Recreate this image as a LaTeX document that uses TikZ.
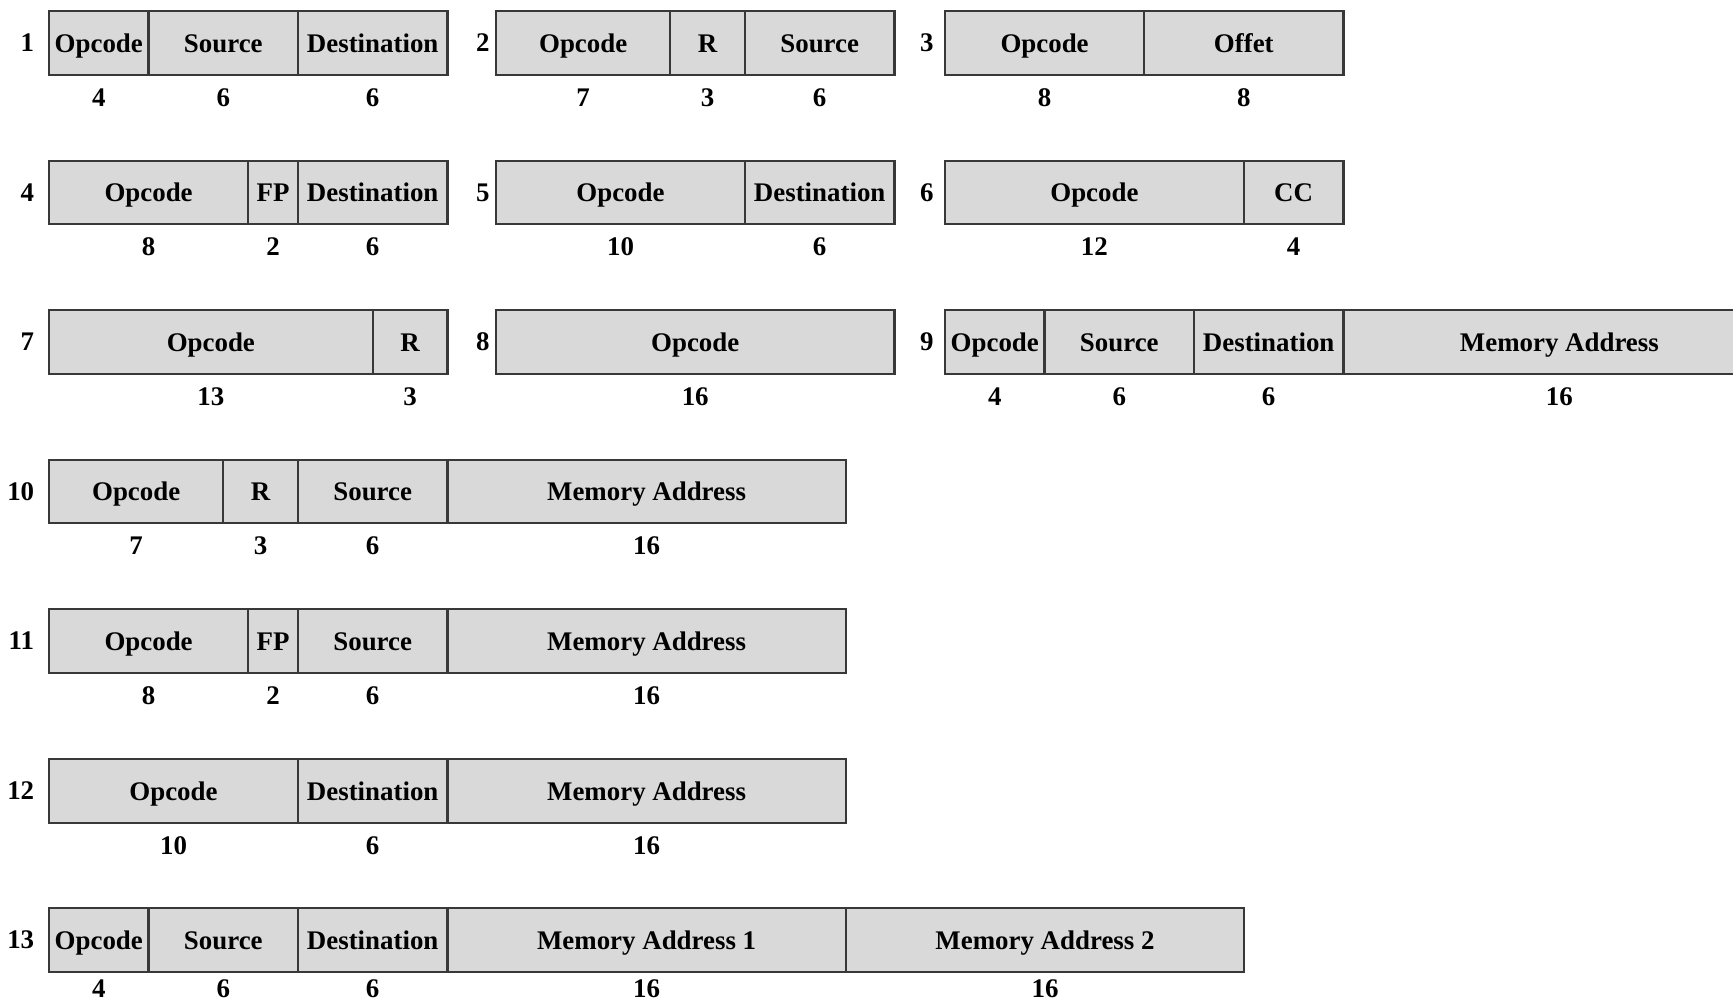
\documentclass[tikz,border=0pt]{standalone}
\usepackage{fontspec}
\setmainfont{Liberation Serif}
\usetikzlibrary{positioning}
\tikzset{
  field/.style={draw=black!78, fill=black!15, line width=1.3pt, minimum height=1.27cm,
    inner sep=0pt, outer sep=0pt, text height=13pt, text depth=2.7pt,
    font=\bfseries\fontsize{15.3}{18}\selectfont},
  nbits/.style={minimum width=#1*4.98mm},
  bitcount/.style={inner sep=0pt, font=\bfseries\fontsize{15.3}{18}\selectfont},
  rowno/.style={anchor=east, inner sep=0pt, font=\bfseries\fontsize{15.3}{18}\selectfont},
}
\begin{document}
\begin{tikzpicture}
\useasboundingbox (0,0) rectangle (34.66,20.06);
% row of formats 1, 2, 3
\node[rowno] (l1) at (0.69,19.20) {1};
\node[field, nbits=4, anchor=west] (f1a) at (0.98,19.20) {Opcode};
\node[field, nbits=6, right=0pt of f1a] (f1b) {Source};
\node[field, nbits=6, right=0pt of f1b] (f1c) {Destination};
\node[bitcount] (n1a) at ([yshift=-1.09cm]f1a.center) {4};
\node[bitcount] (n1b) at ([yshift=-1.09cm]f1b.center) {6};
\node[bitcount] (n1c) at ([yshift=-1.09cm]f1c.center) {6};
\node[rowno] (l2) at (9.80,19.20) {2};
\node[field, nbits=7, anchor=west] (f2a) at (9.92,19.20) {Opcode};
\node[field, nbits=3, right=0pt of f2a] (f2b) {R};
\node[field, nbits=6, right=0pt of f2b] (f2c) {Source};
\node[bitcount] (n2a) at ([yshift=-1.09cm]f2a.center) {7};
\node[bitcount] (n2b) at ([yshift=-1.09cm]f2b.center) {3};
\node[bitcount] (n2c) at ([yshift=-1.09cm]f2c.center) {6};
\node[rowno] (l3) at (18.68,19.20) {3};
\node[field, nbits=8, anchor=west] (f3a) at (18.90,19.20) {Opcode};
\node[field, nbits=8, right=0pt of f3a] (f3b) {Offet};
\node[bitcount] (n3a) at ([yshift=-1.09cm]f3a.center) {8};
\node[bitcount] (n3b) at ([yshift=-1.09cm]f3b.center) {8};
% row of formats 4, 5, 6
\node[rowno] (l4) at (0.69,16.21) {4};
\node[field, nbits=8, anchor=west] (f4a) at (0.98,16.21) {Opcode};
\node[field, nbits=2, right=0pt of f4a] (f4b) {FP};
\node[field, nbits=6, right=0pt of f4b] (f4c) {Destination};
\node[bitcount] (n4a) at ([yshift=-1.09cm]f4a.center) {8};
\node[bitcount] (n4b) at ([yshift=-1.09cm]f4b.center) {2};
\node[bitcount] (n4c) at ([yshift=-1.09cm]f4c.center) {6};
\node[rowno] (l5) at (9.80,16.21) {5};
\node[field, nbits=10, anchor=west] (f5a) at (9.92,16.21) {Opcode};
\node[field, nbits=6, right=0pt of f5a] (f5b) {Destination};
\node[bitcount] (n5a) at ([yshift=-1.09cm]f5a.center) {10};
\node[bitcount] (n5b) at ([yshift=-1.09cm]f5b.center) {6};
\node[rowno] (l6) at (18.68,16.21) {6};
\node[field, nbits=12, anchor=west] (f6a) at (18.90,16.21) {Opcode};
\node[field, nbits=4, right=0pt of f6a] (f6b) {CC};
\node[bitcount] (n6a) at ([yshift=-1.09cm]f6a.center) {12};
\node[bitcount] (n6b) at ([yshift=-1.09cm]f6b.center) {4};
% row of formats 7, 8, 9
\node[rowno] (l7) at (0.69,13.22) {7};
\node[field, nbits=13, anchor=west] (f7a) at (0.98,13.22) {Opcode};
\node[field, nbits=3, right=0pt of f7a] (f7b) {R};
\node[bitcount] (n7a) at ([yshift=-1.09cm]f7a.center) {13};
\node[bitcount] (n7b) at ([yshift=-1.09cm]f7b.center) {3};
\node[rowno] (l8) at (9.80,13.22) {8};
\node[field, nbits=16, anchor=west] (f8a) at (9.92,13.22) {Opcode};
\node[bitcount] (n8a) at ([yshift=-1.09cm]f8a.center) {16};
\node[rowno] (l9) at (18.68,13.22) {9};
\node[field, nbits=4, anchor=west] (f9a) at (18.90,13.22) {Opcode};
\node[field, nbits=6, right=0pt of f9a] (f9b) {Source};
\node[field, nbits=6, right=0pt of f9b] (f9c) {Destination};
\node[field, minimum width=8.64cm, right=0pt of f9c] (f9d) {Memory Address};
\node[bitcount] (n9a) at ([yshift=-1.09cm]f9a.center) {4};
\node[bitcount] (n9b) at ([yshift=-1.09cm]f9b.center) {6};
\node[bitcount] (n9c) at ([yshift=-1.09cm]f9c.center) {6};
\node[bitcount] (n9d) at ([yshift=-1.09cm]f9d.center) {16};
% format 10
\node[rowno] (l10) at (0.69,10.23) {10};
\node[field, nbits=7, anchor=west] (f10a) at (0.98,10.23) {Opcode};
\node[field, nbits=3, right=0pt of f10a] (f10b) {R};
\node[field, nbits=6, right=0pt of f10b] (f10c) {Source};
\node[field, nbits=16, right=0pt of f10c] (f10d) {Memory Address};
\node[bitcount] (n10a) at ([yshift=-1.09cm]f10a.center) {7};
\node[bitcount] (n10b) at ([yshift=-1.09cm]f10b.center) {3};
\node[bitcount] (n10c) at ([yshift=-1.09cm]f10c.center) {6};
\node[bitcount] (n10d) at ([yshift=-1.09cm]f10d.center) {16};
% format 11
\node[rowno] (l11) at (0.69,7.24) {11};
\node[field, nbits=8, anchor=west] (f11a) at (0.98,7.24) {Opcode};
\node[field, nbits=2, right=0pt of f11a] (f11b) {FP};
\node[field, nbits=6, right=0pt of f11b] (f11c) {Source};
\node[field, nbits=16, right=0pt of f11c] (f11d) {Memory Address};
\node[bitcount] (n11a) at ([yshift=-1.09cm]f11a.center) {8};
\node[bitcount] (n11b) at ([yshift=-1.09cm]f11b.center) {2};
\node[bitcount] (n11c) at ([yshift=-1.09cm]f11c.center) {6};
\node[bitcount] (n11d) at ([yshift=-1.09cm]f11d.center) {16};
% format 12
\node[rowno] (l12) at (0.69,4.24) {12};
\node[field, nbits=10, anchor=west] (f12a) at (0.98,4.24) {Opcode};
\node[field, nbits=6, right=0pt of f12a] (f12b) {Destination};
\node[field, nbits=16, right=0pt of f12b] (f12c) {Memory Address};
\node[bitcount] (n12a) at ([yshift=-1.09cm]f12a.center) {10};
\node[bitcount] (n12b) at ([yshift=-1.09cm]f12b.center) {6};
\node[bitcount] (n12c) at ([yshift=-1.09cm]f12c.center) {16};
% format 13
\node[rowno] (l13) at (0.69,1.26) {13};
\node[field, nbits=4, anchor=west] (f13a) at (0.98,1.26) {Opcode};
\node[field, nbits=6, right=0pt of f13a] (f13b) {Source};
\node[field, nbits=6, right=0pt of f13b] (f13c) {Destination};
\node[field, nbits=16, right=0pt of f13c] (f13d) {Memory Address 1};
\node[field, nbits=16, right=0pt of f13d] (f13e) {Memory Address 2};
\node[bitcount] (n13a) at ([yshift=-0.98cm]f13a.center) {4};
\node[bitcount] (n13b) at ([yshift=-0.98cm]f13b.center) {6};
\node[bitcount] (n13c) at ([yshift=-0.98cm]f13c.center) {6};
\node[bitcount] (n13d) at ([yshift=-0.98cm]f13d.center) {16};
\node[bitcount] (n13e) at ([yshift=-0.98cm]f13e.center) {16};
\end{tikzpicture}
\end{document}
